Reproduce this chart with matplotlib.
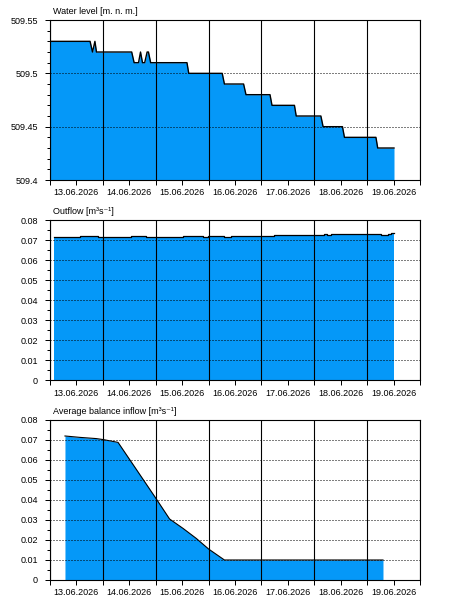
import numpy as np
import pandas as pd
import matplotlib
matplotlib.use('Agg')
import matplotlib.pyplot as plt
import matplotlib.dates as mdates
from matplotlib.ticker import MultipleLocator, FuncFormatter

START = pd.Timestamp('2026-06-13 00:00')
END = pd.Timestamp('2026-06-20 00:00')
FILL = '#0598F8'

# hours counted from 13.06.2026 00:00
level_hours = [0, 18.2, 19.3, 20.4, 21.1, 37.1, 38.2, 40.2, 41.1, 42.0, 43.0, 44.1, 44.7,
               45.7, 62.2, 63.0, 78.2, 79.2, 87.9, 89.0, 99.9, 100.8, 111.0, 111.8,
               123.0, 124.0, 132.8, 133.7, 148.0, 148.8, 156.2]
level_vals = [509.53, 509.53, 509.52, 509.53, 509.52, 509.52, 509.51, 509.51, 509.52, 509.51,
              509.51, 509.52, 509.52, 509.51, 509.51, 509.50, 509.50, 509.49, 509.49, 509.48,
              509.48, 509.47, 509.47, 509.46, 509.46, 509.45, 509.45, 509.44, 509.44, 509.43,
              509.43]

outflow_hours = [1.8, 6.8, 8.3, 11.3, 13.6, 16.6, 18.1, 21.9, 24.2, 25.7, 30.9, 33.2, 34.7,
                 37.0, 43.8, 48.3, 55.8, 60.4, 69.4, 71.7, 79.2, 82.3, 91.3, 92.8, 95.9,
                 99.6, 101.9, 107.9, 109.4, 114.7, 124.5, 126.0, 127.5, 130.6, 133.6,
                 142.6, 145.7, 150.2, 153.3, 154.7, 156.2]
outflow_vals = [0.0713, 0.0717, 0.0713, 0.0717, 0.0719, 0.0722, 0.0718, 0.0715, 0.0717,
                0.0713, 0.0717, 0.0713, 0.0715, 0.0718, 0.0715, 0.0713, 0.0715, 0.0718,
                0.0715, 0.0718, 0.0717, 0.0718, 0.0722, 0.0718, 0.0722, 0.0718, 0.0723,
                0.0727, 0.0726, 0.0723, 0.0728, 0.0723, 0.0728, 0.0730, 0.0732, 0.0728,
                0.0730, 0.0727, 0.0732, 0.0733, 0.0733]

inflow_hours = [6.8, 13.6, 21.0, 24.2, 27.5, 30.9, 48.1, 54.3, 60.4, 66.4, 72.0, 79.2, 151.2]
inflow_vals = [0.0720, 0.0713, 0.0707, 0.0702, 0.0695, 0.0688, 0.0408, 0.0305, 0.0258,
               0.0208, 0.0155, 0.0100, 0.0100]

plt.rcParams['font.family'] = ['Liberation Sans', 'DejaVu Sans']
plt.rcParams['font.size'] = 6.5


def to_time(hours):
    return (START + pd.to_timedelta(np.array(hours), unit='h')).to_pydatetime()


def style_axes(ax, title, ymin, ymax, ymajor, yminor):
    ax.set_xlim(START.to_pydatetime(), END.to_pydatetime())
    ax.set_ylim(ymin, ymax)
    ax.xaxis.set_major_locator(mdates.HourLocator(byhour=[12]))
    ax.xaxis.set_major_formatter(mdates.DateFormatter('%d.%m.%Y'))
    ax.xaxis.set_minor_locator(mdates.HourLocator(byhour=[0]))
    ax.yaxis.set_major_locator(MultipleLocator(ymajor))
    ax.yaxis.set_minor_locator(MultipleLocator(yminor))
    ax.yaxis.set_major_formatter(FuncFormatter(lambda v, p: f'{round(v, 4):g}'))
    ax.tick_params(axis='x', which='both', direction='out', length=3.6, width=0.72, pad=2.5)
    ax.tick_params(axis='y', which='major', direction='out', length=3.6, width=0.72, pad=5)
    ax.tick_params(axis='y', which='minor', direction='out', length=2.2, width=0.72)
    ax.grid(which='minor', axis='x', color='black', linestyle='-', linewidth=0.8)
    ax.grid(which='major', axis='y', color='black', linestyle=(0, (1, 2)), linewidth=0.72)
    for sp in ax.spines.values():
        sp.set_linewidth(0.8)
        sp.set_color('black')
    ax.annotate(title, xy=(0, 1), xycoords='axes fraction', xytext=(2, 3),
                textcoords='offset points', ha='left', va='bottom')


fig = plt.figure(figsize=(4.5, 6.1), dpi=100)
ax1 = fig.add_axes([0.1111, 0.7049, 0.8222, 0.2623])
ax2 = fig.add_axes([0.1111, 0.3770, 0.8222, 0.2623])
ax3 = fig.add_axes([0.1111, 0.0492, 0.8222, 0.2623])

# water level
t = to_time(level_hours)
ax1.fill_between(t, level_vals, 509.4, color=FILL, linewidth=0)
ax1.plot(t, level_vals, color='black', lw=1.0)
style_axes(ax1, 'Water level [m. n. m.]', 509.4, 509.55, 0.05, 0.01)

# outflow
t = to_time(outflow_hours)
ax2.fill_between(t, outflow_vals, 0, color=FILL, linewidth=0, step='post')
ax2.plot(t, outflow_vals, color='black', lw=0.9, drawstyle='steps-post')
style_axes(ax2, 'Outflow [m³s⁻¹]', 0, 0.08, 0.01, 0.005)

# average balance inflow
t = to_time(inflow_hours)
ax3.fill_between(t, inflow_vals, 0, color=FILL, linewidth=0)
ax3.plot(t, inflow_vals, color='black', lw=0.8)
style_axes(ax3, 'Average balance inflow [m³s⁻¹]', 0, 0.08, 0.01, 0.005)

fig.savefig('out.png', dpi=100)
